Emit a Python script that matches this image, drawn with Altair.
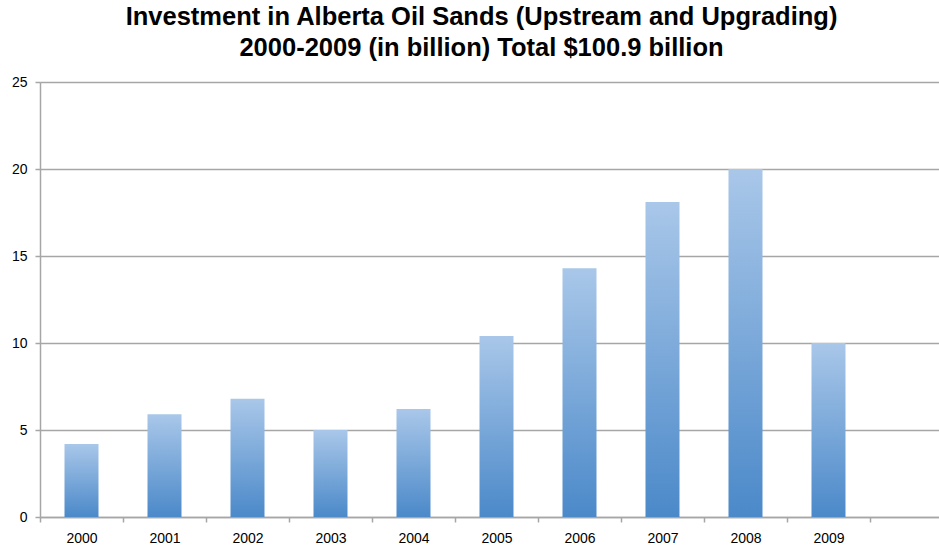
import altair as alt
import pandas as pd

years = ["2000", "2001", "2002", "2003", "2004", "2005", "2006", "2007", "2008", "2009"]
investment = [4.2, 5.9, 6.8, 5.0, 6.2, 10.4, 14.3, 18.1, 20.0, 10.0]
y_ticks = [0, 5, 10, 15, 20, 25]
title_lines = ["Investment in Alberta Oil Sands (Upstream and Upgrading)",
               "2000-2009 (in billion) Total $100.9 billion"]

df = pd.DataFrame({"year": years, "value": investment})

FONT = "Liberation Sans"
GREY = "#a6a6a6"

gradient = alt.Gradient(
    gradient="linear",
    stops=[alt.GradientStop(color="#a9c7e9", offset=0),
           alt.GradientStop(color="#4b89c9", offset=1)],
    x1=0, x2=0, y1=0, y2=1,
)

chart = alt.Chart(df).mark_bar(size=34, fill=gradient).encode(
    x=alt.X("year:N", sort=years, title=None,
            scale=alt.Scale(paddingInner=0, paddingOuter=0.4157, align=0),
            axis=alt.Axis(labelAngle=0, tickBand="extent", tickSize=5,
                          tickColor=GREY, domainColor=GREY, domainWidth=1.5,
                          tickWidth=1.5, labelPadding=9, labelFontSize=14,
                          labelFont=FONT, labelColor="#000000", grid=False)),
    y=alt.Y("value:Q", title=None,
            scale=alt.Scale(domain=[0, 25], nice=False),
            axis=alt.Axis(values=y_ticks, tickSize=5, tickColor=GREY,
                          domainColor=GREY, domainWidth=1.5, tickWidth=1.5,
                          gridColor=GREY, gridWidth=1.5, labelPadding=8,
                          labelFontSize=14, labelFont=FONT,
                          labelColor="#000000")),
).properties(
    width=899,
    height=435,
    title=alt.TitleParams(text=title_lines, font=FONT, fontSize=25.5,
                          fontWeight="bold", color="#000000", dx=-8,
                          offset=14, lineHeight=31, anchor="middle"),
    autosize=alt.AutoSizeParams(type="none"),
    padding={"left": 40, "top": 82, "right": 0, "bottom": 31},
).configure_view(stroke=None).configure(background="white")

chart.save("out.html", embed_options={"renderer": "svg", "actions": False})
